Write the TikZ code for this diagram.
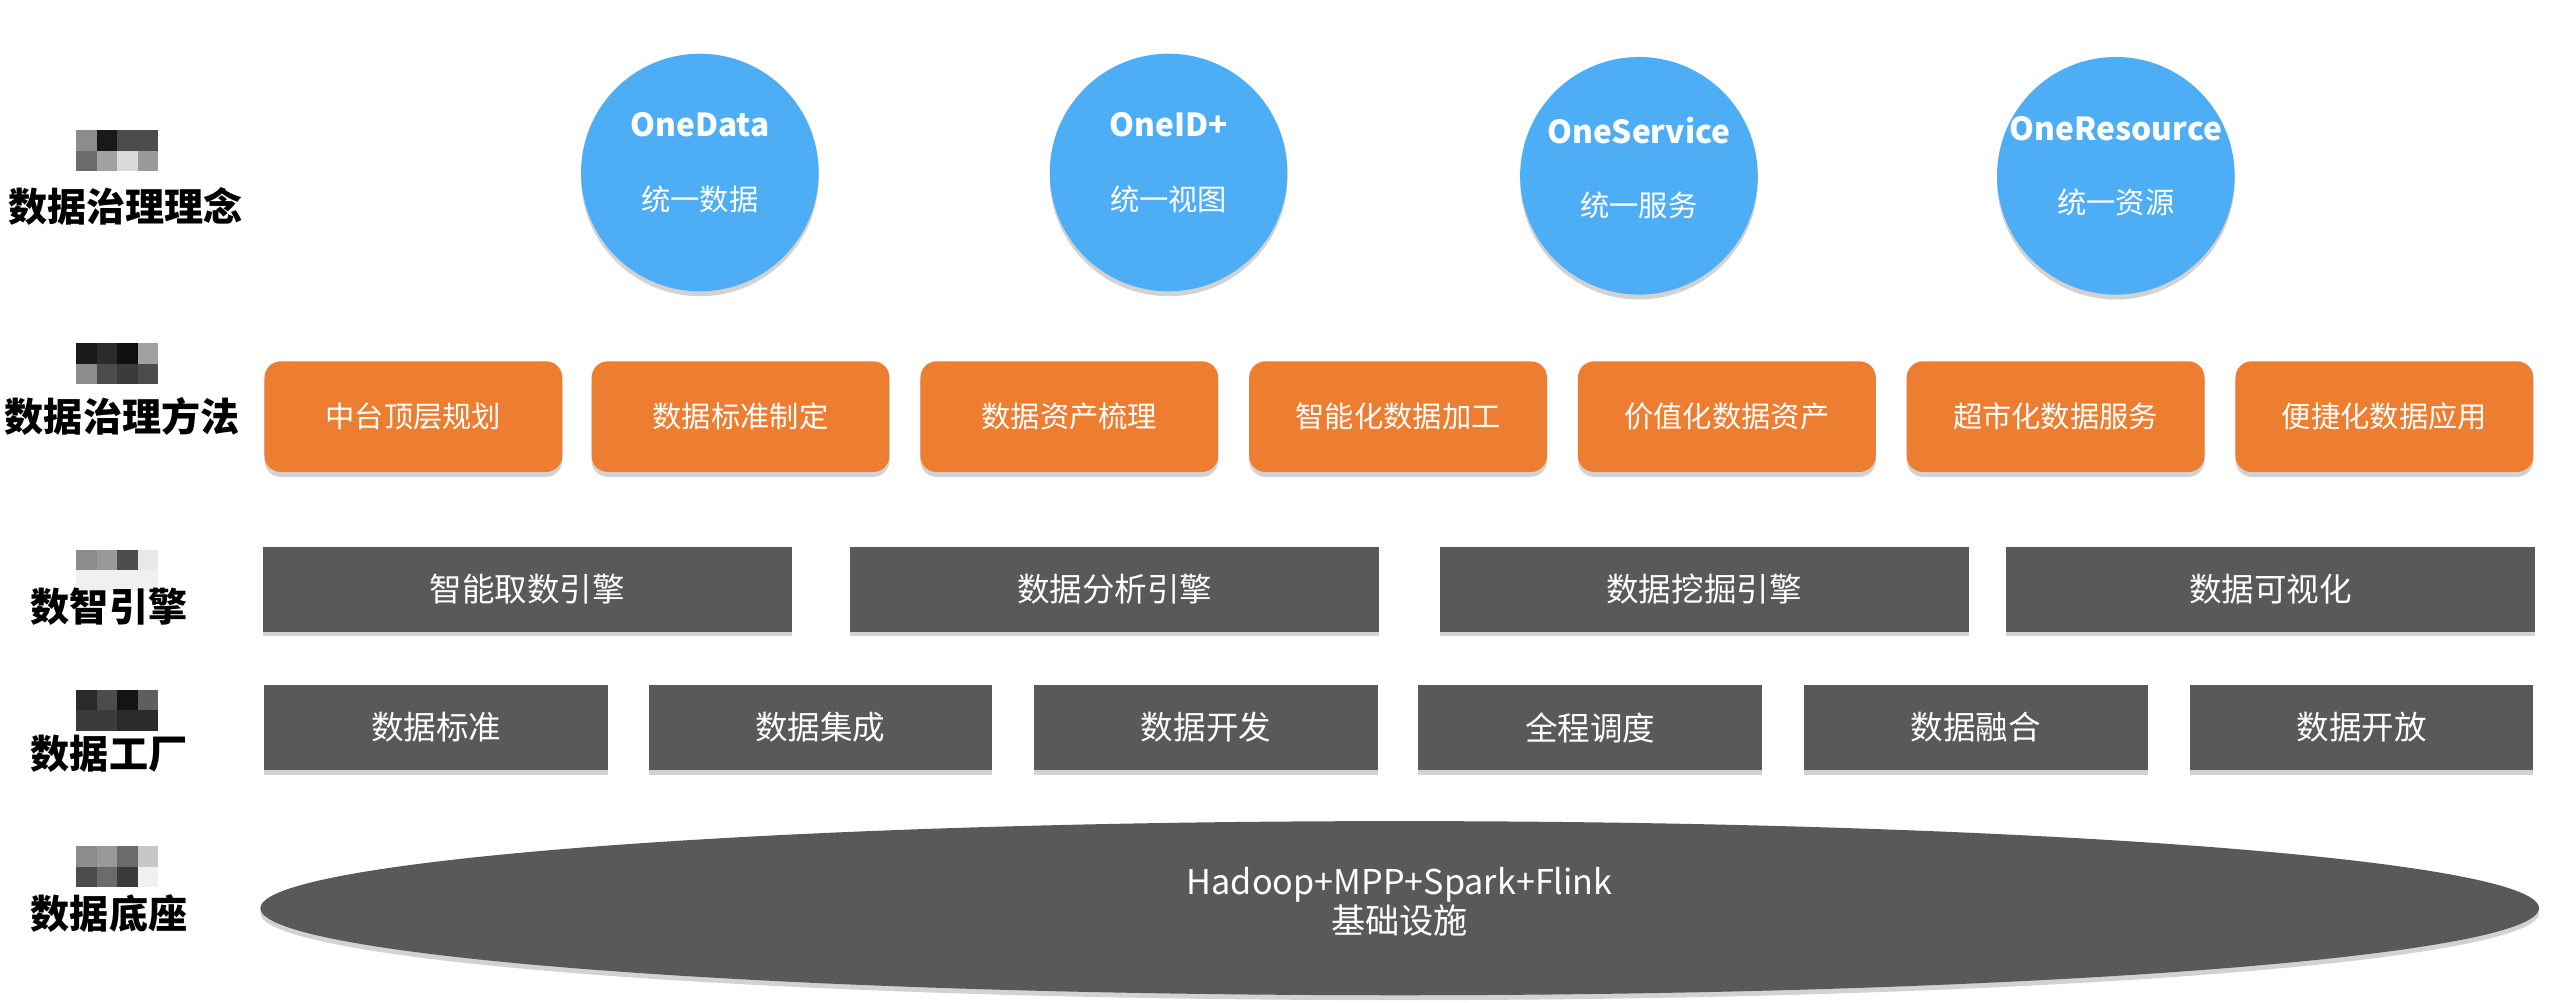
\documentclass[tikz,border=0pt]{standalone}
\usepackage{fontspec}
\setmainfont{Noto Sans CJK SC}
\usetikzlibrary{shadows,shapes.geometric}
\definecolor{cblue}{HTML}{4DAEF6}
\definecolor{corange}{HTML}{ED7D31}
\definecolor{cgray}{HTML}{595959}
\newcommand{\subf}{\mdseries\fontsize{18}{20}\selectfont}
\tikzset{
  shad/.style={drop shadow={shadow xshift=0pt,shadow yshift=-3pt,opacity=.25,fill=black!70}},
  concept/.style={circle,fill=cblue,minimum size=146pt,inner sep=0pt,shad},
  ctext/.style={text=white,align=center,inner sep=0pt,font=\bfseries\fontsize{19.5}{24}\selectfont},
  method/.style={rounded corners=10pt,fill=corange,minimum width=183pt,minimum height=68pt,
    inner sep=0pt,text=white,font=\fontsize{18}{20}\selectfont,shad},
  engine/.style={fill=cgray,minimum width=325pt,minimum height=52pt,inner sep=0pt,
    text=white,font=\fontsize{20}{22}\selectfont,shad},
  factory/.style={engine,minimum width=211pt},
  layer/.style={font=\bfseries\fontsize{24}{26}\selectfont,text=black,inner sep=0pt},
}
\newcommand{\myblob}[2]{%
  \foreach \c [count=\i from 0] in {#2} {%
    \pgfmathtruncatemacro{\cx}{mod(\i,4)}%
    \pgfmathtruncatemacro{\cy}{\i/4}%
    \fill[black!\c] ({47+\cx*12.5},{#1+\cy*12.5}) rectangle ++(12.5,12.5);
  }}
\begin{document}
\begin{tikzpicture}[x=1pt,y=-1pt]
\useasboundingbox[fill=white] (0,0) rectangle (1568,616);
% left labels
\myblob{80}{45,90,70,70,58,37,15,40}
\myblob{211}{90,83,94,37,45,70,77,70}
\myblob{338}{45,40,70,9,6,6,6,6}
\myblob{424}{83,70,92,63,77,77,83,83}
\myblob{520}{45,40,58,22,70,58,77,6}
\node[layer] (l1) at (77,127) {数据治理理念};
\node[layer] (l2) at (75,256) {数据治理方法};
\node[layer] (l3) at (67,373) {数智引擎};
\node[layer] (l4) at (67,463) {数据工厂};
\node[layer] (l5) at (67,561) {数据底座};
% concepts
\node[concept] (c1) at (430,106) {};
\node[concept] (c2) at (718,106) {};
\node[concept] (c3) at (1007,108) {};
\node[concept] (c4) at (1300,108) {};
\node[ctext] (t1) at ([yshift=6pt]c1.center) {OneData\\[21pt]{\subf 统一数据}};
\node[ctext] (t2) at ([yshift=6pt]c2.center) {OneID+\\[21pt]{\subf 统一视图}};
\node[ctext] (t3) at ([yshift=5pt]c3.center) {OneService\\[21pt]{\subf 统一服务}};
\node[ctext] (t4) at ([yshift=6pt]c4.center) {OneResource\\[21pt]{\subf 统一资源}};
% methods
\node[method] (m1) at (254,256) {中台顶层规划};
\node[method] (m2) at (455,256) {数据标准制定};
\node[method] (m3) at (657,256) {数据资产梳理};
\node[method] (m4) at (859,256) {智能化数据加工};
\node[method] (m5) at (1061,256) {价值化数据资产};
\node[method] (m6) at (1263,256) {超市化数据服务};
\node[method] (m7) at (1465,256) {便捷化数据应用};
% engines
\node[engine] (e1) at (324,362) {智能取数引擎};
\node[engine] (e2) at (685,362) {数据分析引擎};
\node[engine] (e3) at (1047,362) {数据挖掘引擎};
\node[engine] (e4) at (1395,362) {数据可视化};
% factory
\node[factory] (f1) at (268,447) {数据标准};
\node[factory] (f2) at (504,447) {数据集成};
\node[factory] (f3) at (741,447) {数据开发};
\node[factory] (f4) at (977,447) {全程调度};
\node[factory] (f5) at (1214,447) {数据融合};
\node[factory] (f6) at (1451,447) {数据开放};
% base
\node[ellipse,fill=cgray,minimum width=1400pt,minimum height=107pt,inner sep=0pt,shad] (b) at (860,558) {};
\node[text=white,align=center,inner sep=0pt,font=\fontsize{21}{24}\selectfont] (bt)
  at ([yshift=4pt]b.center) {Hadoop+MPP+Spark+Flink\\基础设施};
\end{tikzpicture}
\end{document}
